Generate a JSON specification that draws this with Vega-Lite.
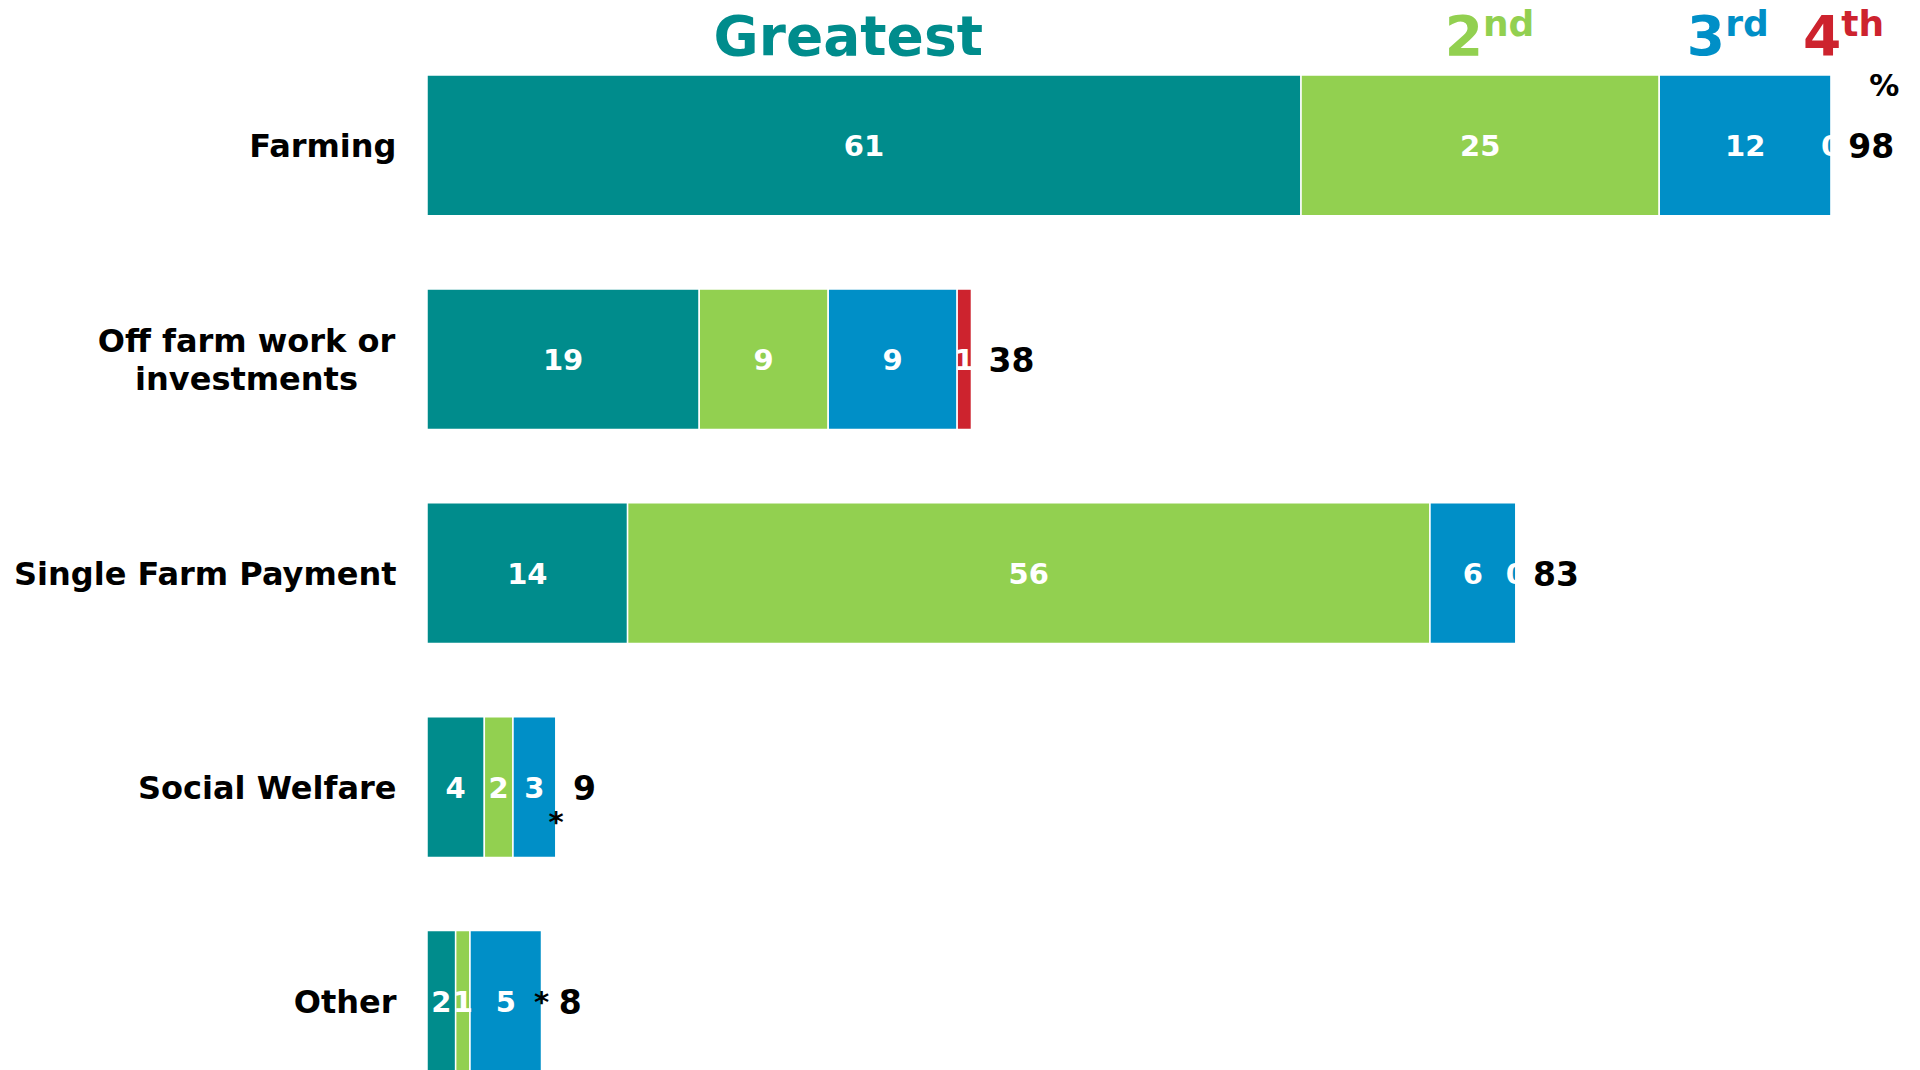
{
  "$schema": "https://vega.github.io/schema/vega-lite/v6.json",
  "width": 1493,
  "height": 1070,
  "autosize": {"type": "none"},
  "padding": {"left": 427, "top": 0, "right": 0, "bottom": 0},
  "background": "white",
  "config": {"view": {"stroke": null}, "font": "DejaVu Sans", "text": {"font": "DejaVu Sans", "fontWeight": "bold"}},
  "datasets": {
    "seg": [
      {"cat": "Farming", "rank": "Greatest", "r": 1, "value": 61, "label": "61", "total": 98},
      {"cat": "Farming", "rank": "2nd", "r": 2, "value": 25, "label": "25", "total": 98},
      {"cat": "Farming", "rank": "3rd", "r": 3, "value": 12, "label": "12", "total": 98},
      {"cat": "Farming", "rank": "4th", "r": 4, "value": 0, "label": "0", "total": 98},
      {"cat": "Off farm work or investments", "rank": "Greatest", "r": 1, "value": 19, "label": "19", "total": 38},
      {"cat": "Off farm work or investments", "rank": "2nd", "r": 2, "value": 9, "label": "9", "total": 38},
      {"cat": "Off farm work or investments", "rank": "3rd", "r": 3, "value": 9, "label": "9", "total": 38},
      {"cat": "Off farm work or investments", "rank": "4th", "r": 4, "value": 1, "label": "1", "total": 38},
      {"cat": "Single Farm Payment", "rank": "Greatest", "r": 1, "value": 14, "label": "14", "total": 83},
      {"cat": "Single Farm Payment", "rank": "2nd", "r": 2, "value": 56, "label": "56", "total": 83},
      {"cat": "Single Farm Payment", "rank": "3rd", "r": 3, "value": 6, "label": "6", "total": 83},
      {"cat": "Single Farm Payment", "rank": "4th", "r": 4, "value": 0, "label": "0", "total": 83},
      {"cat": "Social Welfare", "rank": "Greatest", "r": 1, "value": 4, "label": "4", "total": 9},
      {"cat": "Social Welfare", "rank": "2nd", "r": 2, "value": 2, "label": "2", "total": 9},
      {"cat": "Social Welfare", "rank": "3rd", "r": 3, "value": 3, "label": "3", "total": 9},
      {"cat": "Social Welfare", "rank": "4th", "r": 4, "value": 0, "label": "*", "total": 9},
      {"cat": "Other", "rank": "Greatest", "r": 1, "value": 2, "label": "2", "total": 8},
      {"cat": "Other", "rank": "2nd", "r": 2, "value": 1, "label": "1", "total": 8},
      {"cat": "Other", "rank": "3rd", "r": 3, "value": 5, "label": "5", "total": 8},
      {"cat": "Other", "rank": "4th", "r": 4, "value": 0, "label": "*", "total": 8}
    ],
    "headers": [
      {"rank": "Greatest", "big": "Greatest", "sup": "", "x": 38.8},
      {"rank": "2nd", "big": "2", "sup": "nd", "x": 73.7},
      {"rank": "3rd", "big": "3", "sup": "rd", "x": 90.6},
      {"rank": "4th", "big": "4", "sup": "th", "x": 98.7}
    ],
    "pct": [{"sym": "%", "x": 101.7}]
  },
  "data": {"name": "seg"},
  "encoding": {
    "y": {
      "field": "cat",
      "type": "nominal",
      "scale": {
        "domain": ["Farming", "Off farm work or investments", "Single Farm Payment", "Social Welfare", "Other"],
        "range": [38.4, 1107.9],
        "paddingInner": 0.3422,
        "paddingOuter": 0.1711,
        "round": false
      },
      "axis": {
        "title": null,
        "domain": false,
        "ticks": false,
        "grid": false,
        "labelFont": "DejaVu Sans",
        "labelFontWeight": "bold",
        "labelFontSize": 32,
        "labelColor": "black",
        "labelLimit": 0,
        "labelLineHeight": 38,
        "labelBaseline": "middle",
        "labelExpr": "datum.value === 'Off farm work or investments' ? ['Off farm work or', 'investments'] : datum.value",
        "labelAlign": {"condition": {"test": "datum.value === 'Off farm work or investments'", "value": "center"}, "value": "right"},
        "labelPadding": {"condition": {"test": "datum.value === 'Off farm work or investments'", "value": 181}, "value": 31},
        "labelOffset": {"condition": {"test": "datum.value === 'Off farm work or investments'", "value": -17}, "value": 2}
      }
    }
  },
  "layer": [
    {
      "mark": {"type": "bar", "stroke": "white", "strokeWidth": 1.5},
      "encoding": {
        "x": {"field": "value", "type": "quantitative", "stack": "zero", "scale": {"domain": [0, 104.2], "nice": false, "zero": true}, "axis": null},
        "color": {
          "field": "rank",
          "type": "nominal",
          "scale": {"domain": ["Greatest", "2nd", "3rd", "4th"], "range": ["#008C8C", "#92D050", "#008FC7", "#CD232E"]},
          "legend": null
        },
        "order": {"field": "r", "type": "quantitative"}
      }
    },
    {
      "mark": {"type": "text", "fontSize": 29, "fontWeight": "bold", "align": "center", "baseline": "middle", "dy": 2},
      "encoding": {
        "x": {"field": "value", "type": "quantitative", "stack": "zero", "bandPosition": 0.5},
        "order": {"field": "r", "type": "quantitative"},
        "text": {"condition": {"test": "!(datum.label === '*' && datum.cat === 'Social Welfare')", "field": "label"}, "value": ""},
        "color": {"condition": {"test": "datum.label === '*'", "value": "black"}, "value": "white"}
      }
    },
    {
      "mark": {"type": "text", "fontSize": 29, "fontWeight": "bold", "align": "center", "baseline": "middle", "dy": 36},
      "encoding": {
        "x": {"field": "value", "type": "quantitative", "stack": "zero", "bandPosition": 0.5},
        "order": {"field": "r", "type": "quantitative"},
        "text": {"condition": {"test": "datum.label === '*' && datum.cat === 'Social Welfare'", "field": "label"}, "value": ""},
        "color": {"value": "black"}
      }
    },
    {
      "transform": [
        {"aggregate": [{"op": "sum", "field": "value", "as": "end"}, {"op": "max", "field": "total", "as": "total"}], "groupby": ["cat"]}
      ],
      "mark": {"type": "text", "fontSize": 33, "fontWeight": "bold", "align": "left", "baseline": "middle", "dx": 17, "dy": 3},
      "encoding": {
        "x": {"field": "end", "type": "quantitative"},
        "text": {"field": "total", "type": "quantitative"},
        "color": {"value": "black"}
      }
    },
    {
      "data": {"name": "headers"},
      "mark": {"type": "text", "fontSize": 55, "fontWeight": "bold", "align": "right", "baseline": "alphabetic", "dy": -90},
      "encoding": {
        "x": {"field": "x", "type": "quantitative"},
        "y": {"datum": "Farming"},
        "text": {"field": "big"},
        "color": {"field": "rank", "type": "nominal", "legend": null}
      }
    },
    {
      "data": {"name": "headers"},
      "mark": {"type": "text", "fontSize": 36, "fontWeight": "bold", "align": "left", "baseline": "alphabetic", "dy": -109},
      "encoding": {
        "x": {"field": "x", "type": "quantitative"},
        "y": {"datum": "Farming"},
        "text": {"field": "sup"},
        "color": {"field": "rank", "type": "nominal", "legend": null}
      }
    },
    {
      "data": {"name": "pct"},
      "mark": {"type": "text", "fontSize": 30, "fontWeight": "bold", "align": "center", "baseline": "alphabetic", "dy": -49},
      "encoding": {
        "x": {"field": "x", "type": "quantitative"},
        "y": {"datum": "Farming"},
        "text": {"field": "sym"},
        "color": {"value": "black"}
      }
    }
  ]
}
